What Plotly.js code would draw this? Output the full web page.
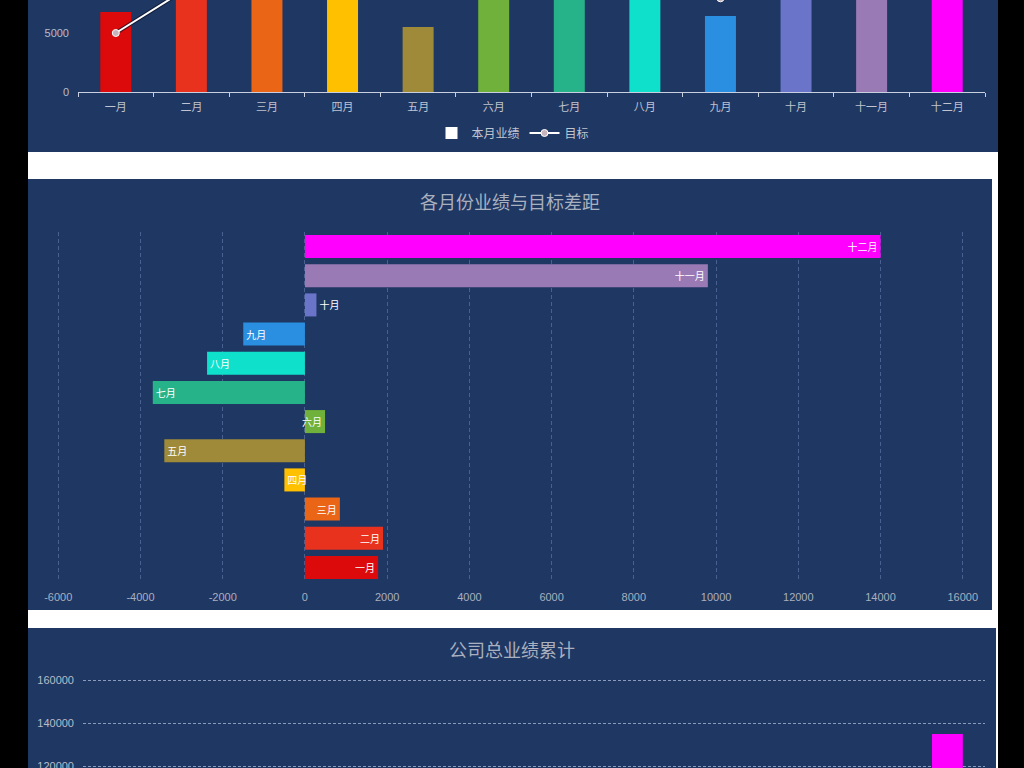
<!DOCTYPE html>
<html>
<head>
<meta charset="utf-8">
<script src="https://cdn.plot.ly/plotly-3.0.1.min.js"></script>
<style>
  html, body { margin: 0; padding: 0; background: #000; overflow: hidden; }
  #page { position: absolute; left: 28px; top: 0; width: 970px; height: 768px; background: #fff; }
  .panel { position: absolute; }
  #salesChart { left: 28px; top: -263px; width: 970px; height: 415px; }
  #gapChart { left: 28px; top: 179px; width: 964px; height: 431px; }
  #totalChart { left: 28px; top: 628px; width: 968px; height: 436px; }
</style>
</head>
<body>
<div id="page"></div>
<div id="salesChart" class="panel"></div>
<div id="gapChart" class="panel"></div>
<div id="totalChart" class="panel"></div>
<script>
const months = ["一月", "二月", "三月", "四月", "五月", "六月", "七月", "八月", "九月", "十月", "十一月", "十二月"];
const sales = [6780, 10900, 9850, 10500, 5510, 11490, 9300, 10620, 6440, 12280, 18800, 22500];
const targets = [5000, 9000, 9000, 11000, 8930, 11000, 13000, 13000, 7940, 12000, 9000, 8500];
const gaps = [1780, 1900, 850, -500, -3420, 490, -3700, -2380, -1500, 280, 9800, 14000];
const cumulative = [6780, 17680, 27530, 38030, 43540, 55030, 64330, 74950, 81390, 93670, 112470, 134970];
// only the ticks that are on screen are labelled
const salesTicks = [0, 5000];
const gapTicks = [-6000, -4000, -2000, 0, 2000, 4000, 6000, 8000, 10000, 12000, 14000, 16000];
const totalTicks = [120000, 140000, 160000];
const monthColors = ["#dc0a0a", "#e8321e", "#eb6516", "#ffc000", "#9e8a39", "#6fb13a", "#27b38a",
    "#0fe0cc", "#2a8fe0", "#6a74c8", "#9a7ab4", "#ff00ff"];

const panelBg = "#1f3763";
const baseFont = "Liberation Sans, Noto Sans CJK SC, sans-serif";
const cjkFont = "Noto Sans CJK SC, sans-serif";
const config = { displayModeBar: false, staticPlot: true };

// top panel: monthly sales vs target (only the lower part is on screen)
Plotly.newPlot("salesChart", [
    {
        type: "bar",
        x: months,
        y: sales,
        width: 0.41,
        marker: { color: monthColors },
        showlegend: false
    },
    {
        type: "bar",
        name: "本月业绩",
        x: [months[0]],
        y: [null],
        marker: { color: "#ffffff" }
    },
    {
        // dark edge under the target line
        type: "scatter",
        mode: "lines",
        x: months,
        y: targets,
        line: { color: "rgba(10,18,40,0.7)", width: 4 },
        showlegend: false
    },
    {
        type: "scatter",
        mode: "lines+markers",
        name: "目标",
        x: months,
        y: targets,
        line: { color: "#ffffff", width: 2 },
        marker: { color: "#c8b4bc", size: 7, line: { color: "#ffffff", width: 1 } }
    }
], {
    barmode: "overlay",
    paper_bgcolor: panelBg,
    plot_bgcolor: panelBg,
    margin: { t: 60, l: 50, r: 13, b: 60 },
    font: { family: baseFont, color: "#b8bdc9", size: 11 },
    xaxis: {
        type: "category",
        range: [-0.5, 11.5],
        automargin: false,
        showline: true,
        linecolor: "#c8d0e0",
        ticks: "outside",
        tickson: "boundaries",
        ticklen: 4,
        tickcolor: "#c8d0e0",
        ticklabelstandoff: 5,
        tickfont: { family: cjkFont, size: 11, color: "#c0c4d0" },
        showgrid: false
    },
    yaxis: {
        automargin: false,
        range: [0, 25000],
        tickmode: "array",
        tickvals: salesTicks,
        ticktext: salesTicks.map(String),
        ticklabelstandoff: 8,
        showgrid: false,
        zeroline: false,
        tickfont: { size: 11, color: "#b8bdc9" }
    },
    legend: {
        orientation: "h",
        xref: "container",
        x: 0.5,
        xanchor: "center",
        yref: "container",
        y: 0.0458,
        yanchor: "middle",
        itemwidth: 30,
        font: { family: cjkFont, size: 12, color: "#c0c4d0" }
    }
}, config);

// middle panel: gap between sales and target
Plotly.newPlot("gapChart", [{
    type: "bar",
    orientation: "h",
    y: months,
    x: gaps,
    text: months,
    textposition: gaps.map(v => (v > 0 && v < 400) ? "outside" : "inside"),
    insidetextanchor: "end",
    textangle: 0,
    constraintext: "none",
    textfont: { family: cjkFont, size: 10, color: "#ffffff" },
    marker: { color: monthColors }
}], {
    title: {
        text: "各月份业绩与目标差距",
        font: { family: cjkFont, size: 18, color: "#a9b0bf" },
        xref: "container", x: 0.5, xanchor: "center",
        yref: "container", y: 0.944, yanchor: "middle"
    },
    bargap: 0.21,
    paper_bgcolor: panelBg,
    plot_bgcolor: panelBg,
    margin: { t: 53, l: 29, r: 28, b: 28 },
    font: { family: baseFont, color: "#a9b0bf", size: 11 },
    xaxis: {
        automargin: false,
        range: [-6030, 16030],
        tickmode: "array",
        tickvals: gapTicks,
        ticktext: gapTicks.map(String),
        zeroline: false,
        showgrid: true,
        gridcolor: "#4a6090",
        griddash: "4px,3px",
        ticks: "outside",
        ticklen: 5,
        tickcolor: "rgba(0,0,0,0)",
        tickfont: { size: 11, color: "#a9b0bf" }
    },
    yaxis: {
        type: "category",
        automargin: false,
        showticklabels: false,
        showgrid: false,
        zeroline: false
    },
    showlegend: false
}, config);

// bottom panel: cumulative company total (lower part runs off the page)
Plotly.newPlot("totalChart", [{
    type: "bar",
    x: months,
    y: cumulative,
    width: 0.41,
    marker: { color: monthColors }
}], {
    title: {
        text: "公司总业绩累计",
        font: { family: cjkFont, size: 18, color: "#a9b0bf" },
        xref: "container", x: 0.5, xanchor: "center",
        yref: "container", y: 0.947, yanchor: "middle"
    },
    paper_bgcolor: panelBg,
    plot_bgcolor: panelBg,
    margin: { t: 50, l: 55, r: 11, b: 40 },
    font: { family: baseFont, color: "#b8bdc9", size: 11 },
    xaxis: {
        type: "category",
        range: [-0.5, 11.5],
        automargin: false,
        showgrid: false,
        showticklabels: false
    },
    yaxis: {
        automargin: false,
        range: [0, 161000],
        tickmode: "array",
        tickvals: totalTicks,
        ticktext: totalTicks.map(String),
        ticklabelstandoff: 8,
        showgrid: true,
        gridcolor: "#8a9abb",
        griddash: "3px,2px",
        zeroline: false,
        tickfont: { size: 11, color: "#b8bdc9" }
    },
    showlegend: false
}, config);
</script>
</body>
</html>
